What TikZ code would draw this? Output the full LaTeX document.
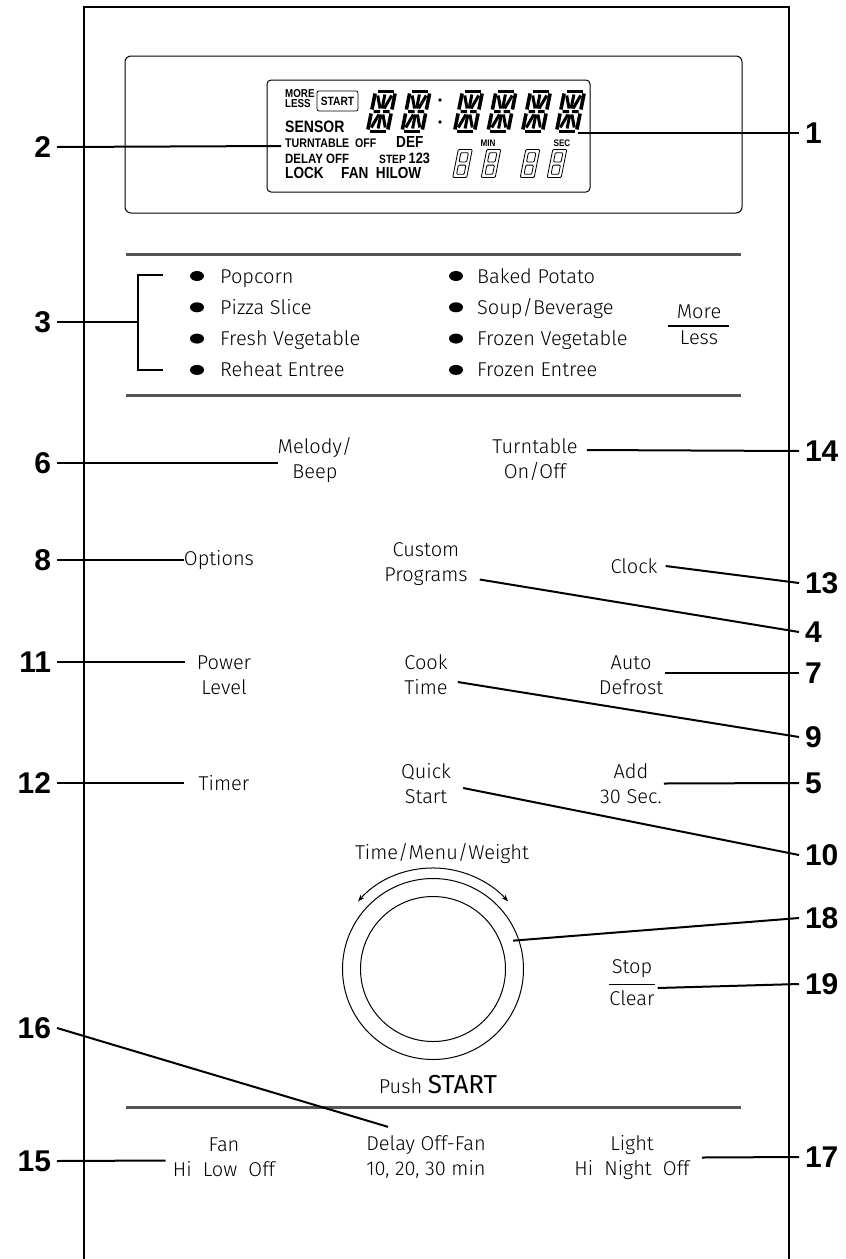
\documentclass[tikz,border=0pt]{standalone}
\usepackage{fontspec}
\usepackage{tikz}
\usetikzlibrary{arrows.meta}
\newfontfamily\btnfont{Fira Sans Light}
\newfontfamily\btnreg{Fira Sans}
\newfontfamily\numfont{Liberation Sans}
\newfontfamily\lcdfont[FakeStretch=0.85]{Liberation Sans}
\definecolor{rulegray}{RGB}{85,85,85}
\newcommand\segdigit[2]{%
  \begin{scope}[shift={(#1,#2)}, xslant=0.2, line width=3.6pt]
    \draw (-8,-20) -- (8,-20) (-8,20) -- (8,20);
    \draw (-10,-18) -- (-10,-2) (-10,2) -- (-10,18) (10,-18) -- (10,-2) (10,2) -- (10,18);
    \draw[line width=3pt] (-8,0) -- (-1.5,0) (1.5,0) -- (8,0) (0,-17) -- (0,-3) (0,3) -- (0,17);
    \draw[line width=3pt] (-7,-16) -- (-2,-3) (7,-16) -- (2,-3) (-7,16) -- (-2,3) (7,16) -- (2,3);
  \end{scope}}
\newcommand\smalleight[2]{%
  \begin{scope}[shift={(#1,#2)}, xslant=0.2, line width=0.8pt, rounded corners=1pt]
    \draw (-7,-14) rectangle (7,14);
    \draw (-3.8,-10.8) rectangle (3.8,-1.6) (-3.8,1.6) rectangle (3.8,10.8);
  \end{scope}}
\begin{document}
\begin{tikzpicture}[x=1pt, y=-1pt, >={Stealth[length=7pt, width=5pt]},
  num/.style={font=\numfont\bfseries\fontsize{30}{30}\selectfont, inner sep=0pt, outer sep=6pt},
  numl/.style={num, anchor=east}, numr/.style={num, anchor=west},
  btn/.style={font=\btnfont\fontsize{20}{25}\selectfont, align=center, inner sep=0pt},
  menu/.style={font=\btnfont\fontsize{20}{20}\selectfont, anchor=west, inner sep=0pt, text height=14pt, text depth=4pt},
  lcd/.style={anchor=west, inner sep=0pt},
  lead/.style={line width=2pt},
  frame/.style={line width=1.2pt},
  rule/.style={line width=3pt, rulegray}]
	\useasboundingbox (0,0) rectangle (846,1259);
	\draw[frame] (84,1259) -- (84,7) -- (789,7) -- (789,1259);
	\draw[line width=1pt, rounded corners=6pt] (125,56) rectangle (742,213);
	\draw[line width=1pt, rounded corners=4pt] (267,80) rectangle (590,192);
	\node[lcd, font=\lcdfont\bfseries\fontsize{11.5}{11.5}\selectfont] (lmore) at (285,93.5) {MORE};
	\node[lcd, font=\lcdfont\bfseries\fontsize{11.5}{11.5}\selectfont] (lless) at (285,104) {LESS};
	\node[draw, rounded corners=2pt, line width=0.8pt, minimum width=41pt, minimum height=20pt, inner sep=0pt, font=\lcdfont\bfseries\fontsize{12}{12}\selectfont] (lstart) at (337.5,101) {START};
	\node[lcd, font=\lcdfont\bfseries\fontsize{16.5}{16.5}\selectfont] (lsensor) at (285,127) {SENSOR};
	\node[lcd, font=\lcdfont\bfseries\fontsize{12.5}{12.5}\selectfont] (tto) at (285,143) {TURNTABLE\ \ OFF};
	\node[lcd, font=\lcdfont\bfseries\fontsize{16}{16}\selectfont] (ldef) at (396,142) {DEF};
	\node[lcd, font=\lcdfont\bfseries\fontsize{13.5}{13.5}\selectfont] (ldelay) at (285,158.5) {DELAY OFF};
	\node[lcd, font=\lcdfont\bfseries\fontsize{12}{12}\selectfont] (lstep) at (379,158.5) {STEP {\fontsize{15}{15}\selectfont 123}};
	\node[lcd, font=\lcdfont\bfseries\fontsize{16}{16}\selectfont] (llock) at (285,173) {LOCK};
	\node[lcd, font=\lcdfont\bfseries\fontsize{16}{16}\selectfont] (lfan) at (341,173) {FAN\ \ HILOW};
	\node[font=\lcdfont\bfseries\fontsize{9.5}{9.5}\selectfont, inner sep=0pt] (lmin) at (488,143.5) {MIN};
	\node[font=\lcdfont\bfseries\fontsize{9.5}{9.5}\selectfont, inner sep=0pt] (lsec) at (562,143.5) {SEC};
	\foreach \x in {381.5,416,468.5,502,536.5,570.5} {\segdigit{\x}{111.5}}
	\foreach \x in {462.5,491,530,557} {\smalleight{\x}{163.5}}
	\fill (440,100) circle (1.8pt) (440,122) circle (1.8pt);
	\coordinate (lcdend) at (578,133);
	\draw[rule] (126,254) -- (741,254);
	\draw[rule] (126,395) -- (741,395);
	\foreach \t [count=\i] in {Popcorn, Pizza Slice, Fresh Vegetable, Reheat Entree} {\node[menu] (ml\i) at (220,{246.7+31.3*\i}) {\t}; \fill ([xshift=-23pt,yshift=2pt]ml\i.west) ellipse [x radius=7pt, y radius=5pt];}
	\foreach \t [count=\i] in {Baked Potato, Soup/Beverage, Frozen Vegetable, Frozen Entree} {\node[menu] (mr\i) at (477,{246.7+31.3*\i}) {\t}; \fill ([xshift=-21pt,yshift=2pt]mr\i.west) ellipse [x radius=7pt, y radius=5pt];}
	\node[menu, anchor=center] (more) at (699,313) {More};
	\node[menu, anchor=center] (less) at (699,339) {Less};
	\draw[line width=1.2pt] (668,326) -- (729,326);
	\draw[lead] (163,275) -- (138,275) -- (138,370) -- (163,370);
	\coordinate (brk) at (138,322);
	\node[btn] (mel) at (315,460) {Melody/\\Beep};
	\node[btn] (tt) at (535,460) {Turntable\\On/Off};
	\node[btn] (opt) at (219,560) {Options};
	\node[btn] (cp) at (426,564.5) {Custom\\Programs};
	\node[btn] (clk) at (634,566) {Clock};
	\node[btn] (pwr) at (224,675) {Power\\Level};
	\node[btn] (cook) at (426,675) {Cook\\Time};
	\node[btn] (auto) at (631,675) {Auto\\Defrost};
	\node[btn] (tmr) at (224,783) {Timer};
	\node[btn] (qs) at (426,784) {Quick\\Start};
	\node[btn] (add) at (631,783.5) {Add\\30 Sec.};
	\node[btn] (tmw) at (442,854) {Time/Menu/Weight};
	\node[circle, draw, line width=1pt, minimum size=181pt, inner sep=0pt] (dial) at (433,969) {};
	\node[circle, draw, line width=1pt, minimum size=145pt, inner sep=0pt] (knob) at (dial.center) {};
	\draw[line width=1pt, <->] ([shift={(222:101)}]dial.center) arc[start angle=222, end angle=318, radius=101];
	\coordinate (ring) at ([shift={(-19.5:85)}]dial.center);
	\node[btn] (stop) at (632,969) {Stop};
	\node[btn] (clr) at (632,998) {Clear};
	\draw[line width=1.2pt] ([yshift=6pt]clr.north west) -- ([yshift=6pt]clr.north east);
	\node[btn] (push) at (438,1085) {Push {\btnreg\fontsize{26}{26}\selectfont START}};
	\draw[rule] (126,1107) -- (741,1107);
	\node[btn] (fan) at (224,1157.5) {Fan\\Hi\ \ Low\ \ Off};
	\node[btn] (dly) at (426,1157.5) {Delay Off-Fan\\10, 20, 30 min};
	\node[btn] (lgt) at (632,1157.5) {Light\\Hi\ \ Night\ \ Off};
	\node[numr] (n1) at (799,133) {1};
	\node[numl] (n2) at (57,147) {2};
	\node[numl] (n3) at (57,322) {3};
	\node[numl] (n6) at (57,463) {6};
	\node[numr] (n14) at (799,451) {14};
	\node[numl] (n8) at (57,560) {8};
	\node[numr] (n13) at (799,583) {13};
	\node[numr] (n4) at (799,632) {4};
	\node[numl] (n11) at (57,662) {11};
	\node[numr] (n7) at (799,673) {7};
	\node[numr] (n9) at (799,737) {9};
	\node[numl] (n12) at (57,783) {12};
	\node[numr] (n5) at (799,783) {5};
	\node[numr] (n10) at (799,855) {10};
	\node[numr] (n18) at (799,918) {18};
	\node[numr] (n19) at (799,984) {19};
	\node[numl] (n16) at (57,1028) {16};
	\node[numl] (n15) at (57,1161) {15};
	\node[numr] (n17) at (799,1157) {17};
	\draw[lead] (lcdend) -- (n1.west);
	\draw[lead] (n2.east) -- ([xshift=-4pt,yshift=-3pt]tto.west);
	\draw[lead] (n3.east) -- (brk);
	\draw[lead] (n6.east) -- ([yshift=-3pt]mel.west);
	\draw[lead] ([xshift=9pt,yshift=10pt]tt.east) -- (n14.west);
	\draw[lead] (n8.east) -- (opt.west);
	\draw[lead] ([xshift=8pt]clk.east) -- (n13.west);
	\draw[lead] ([xshift=12pt,yshift=-15pt]cp.east) -- (n4.west);
	\draw[lead] (n11.east) -- ([xshift=-12pt,yshift=13pt]pwr.west);
	\draw[lead] ([xshift=2pt,yshift=2pt]auto.east) -- (n7.west);
	\draw[lead] ([xshift=10pt,yshift=-7pt]cook.east) -- (n9.west);
	\draw[lead] (n12.east) -- ([xshift=-15pt]tmr.west);
	\draw[lead] ([xshift=2pt]add.east) -- (n5.west);
	\draw[lead] ([xshift=12pt,yshift=-4pt]qs.east) -- (n10.west);
	\draw[lead] (ring) -- (n18.west);
	\draw[lead] ([xshift=3pt,yshift=10pt]clr.east) -- (n19.west);
	\draw[lead] (n16.east) -- ([xshift=22pt,yshift=9pt]dly.north west);
	\draw[lead] (n15.east) -- ([xshift=-7pt,yshift=-3pt]fan.west);
	\draw[lead] ([xshift=12pt]lgt.east) -- (n17.west);
\end{tikzpicture}
\end{document}
